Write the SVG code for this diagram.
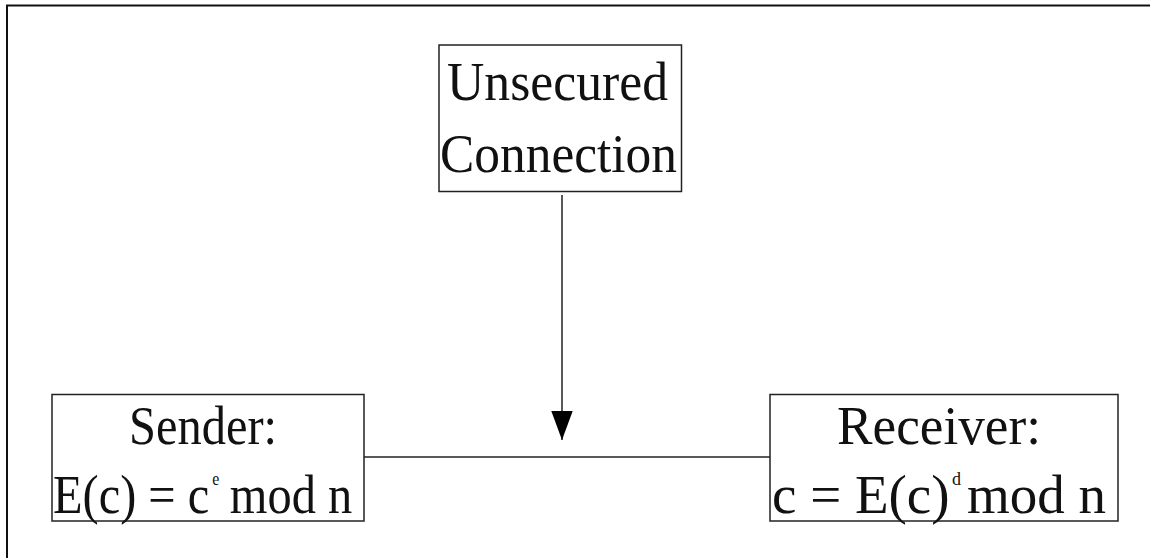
<svg xmlns="http://www.w3.org/2000/svg" width="1150" height="558" viewBox="0 0 1150 558">
  <defs>
    <style>
      .frame { stroke: #111; stroke-width: 2; fill: none; }
      .box { fill: #fff; stroke: #222; stroke-width: 1.5; }
      .edge { stroke: #222; stroke-width: 1.5; fill: none; }
      .lbl { font-family: "Liberation Serif", "Times New Roman", serif; font-size: 55px; fill: #111; }
      .sup { font-family: "Liberation Serif", "Times New Roman", serif; font-size: 18px; fill: #111; }
    </style>
    <marker id="arrowhead" markerUnits="userSpaceOnUse" markerWidth="30" markerHeight="22" refX="27" refY="10" orient="auto" viewBox="0 0 28 20">
      <path d="M0,0 L27,10 L0,20 Z" fill="#000"/>
    </marker>
  </defs>
  <rect width="1150" height="558" fill="#fff"/>

  <!-- page frame -->
  <path class="frame" d="M7,558 L7,5.5 L1150,5.5"/>

  <!-- connectors -->
  <g id="connectors">
    <line class="edge" x1="364" y1="457" x2="770" y2="457"/>
    <line class="edge" x1="562" y1="195" x2="562" y2="440" marker-end="url(#arrowhead)"/>
  </g>

  <g id="unsecured">
    <rect class="box" x="439" y="45" width="242.5" height="146.5"/>
    <text class="lbl" x="447" y="100" textLength="221" lengthAdjust="spacingAndGlyphs">Unsecured</text>
    <text class="lbl" x="440" y="172" textLength="237" lengthAdjust="spacingAndGlyphs">Connection</text>
  </g>

  <g id="sender">
    <rect class="box" x="52" y="394.5" width="312" height="126.5"/>
    <text class="lbl" x="129" y="444" textLength="148" lengthAdjust="spacingAndGlyphs">Sender:</text>
    <!-- formula line, condensed to fit the box -->
    <g transform="translate(53,513) scale(0.88,1)">
      <text class="lbl" x="0" y="0">E(c) = c</text>
      <text class="sup" x="181" y="-28">e</text>
      <text class="lbl" x="201" y="0">mod n</text>
    </g>
  </g>

  <g id="receiver">
    <rect class="box" x="770" y="394.5" width="348" height="126.5"/>
    <text class="lbl" x="837" y="444" textLength="204" lengthAdjust="spacingAndGlyphs">Receiver:</text>
    <text class="lbl" x="772" y="513">c = E(c)</text>
    <text class="sup" x="952" y="485">d</text>
    <text class="lbl" x="967" y="513">mod n</text>
  </g>
</svg>
